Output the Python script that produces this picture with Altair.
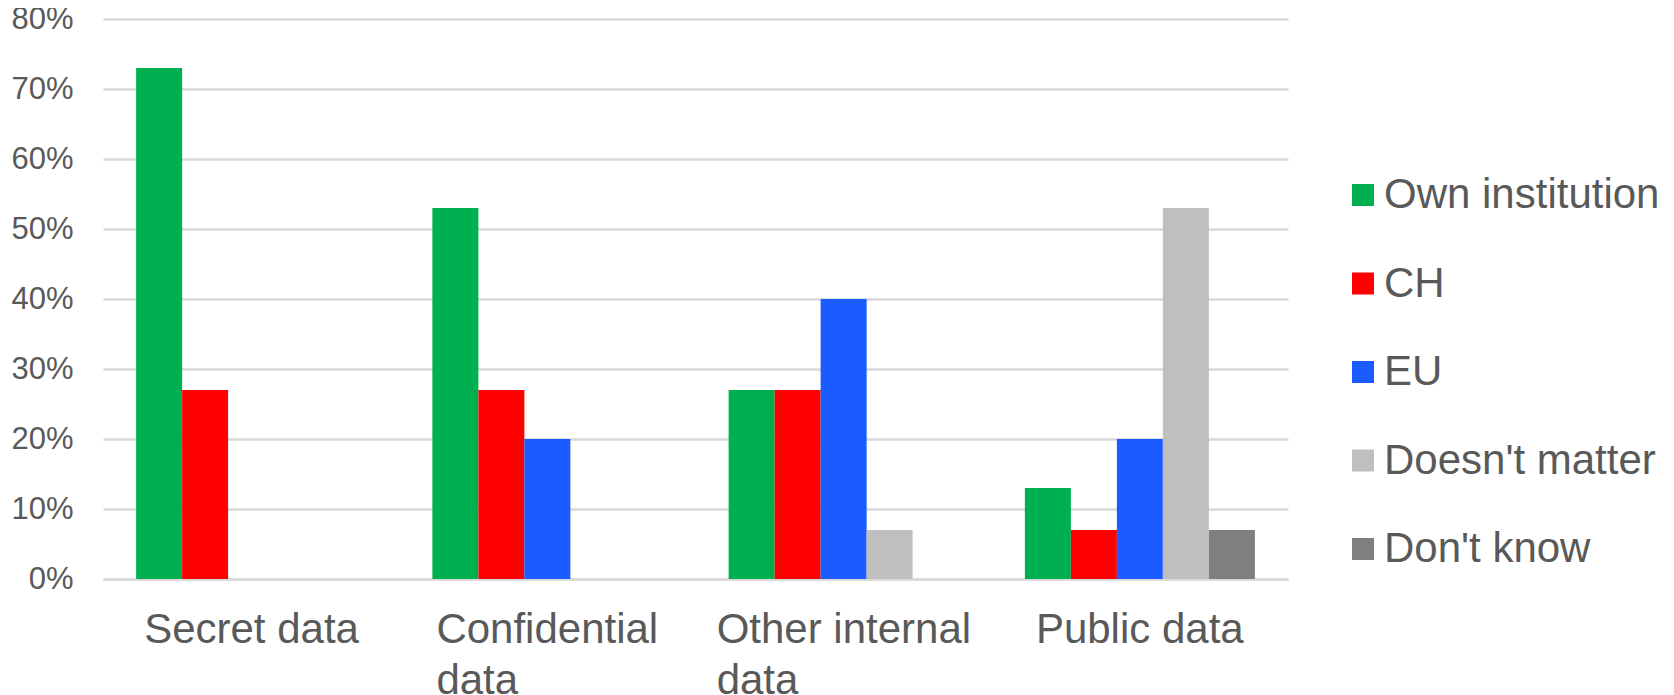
import altair as alt
import pandas as pd

categories = ["Secret data", "Confidential data", "Other internal data", "Public data"]
series = ["Own institution", "CH", "EU", "Doesn't matter", "Don't know"]
colors = ["#00B050", "#FF0000", "#1A5CFF", "#BFBFBF", "#7F7F7F"]

own_institution = [0.73, 0.53, 0.27, 0.13]
ch = [0.27, 0.27, 0.27, 0.07]
eu = [0.0, 0.20, 0.40, 0.20]
doesnt_matter = [0.0, 0.0, 0.07, 0.53]
dont_know = [0.0, 0.0, 0.0, 0.07]

values = [own_institution, ch, eu, doesnt_matter, dont_know]
rows = []
for s, vals in zip(series, values):
    for c, v in zip(categories, vals):
        rows.append({"category": c, "series": s, "value": v})
df = pd.DataFrame(rows)

TEXT = "#595959"
GRID = "#D9D9D9"
FONT = "Liberation Sans"

label_expr = (
    "datum.value == 'Confidential data' ? ['Confidential', 'data'] : "
    "datum.value == 'Other internal data' ? ['Other internal', 'data'] : datum.value"
)
offset_expr = (
    "datum.value == 'Secret data' ? -107 : "
    "datum.value == 'Confidential data' ? -111 : "
    "datum.value == 'Other internal data' ? -127 : -104"
)

chart = (
    alt.Chart(df)
    .mark_bar()
    .encode(
        x=alt.X(
            "category:N",
            sort=categories,
            scale=alt.Scale(paddingInner=0, paddingOuter=0),
            axis=alt.Axis(
                title=None,
                labelAngle=0,
                labelFont=FONT,
                labelFontSize=42,
                labelColor=TEXT,
                labelExpr=label_expr,
                labelAlign="left",
                labelOffset={"expr": offset_expr},
                labelLineHeight=51,
                labelPadding=30,
                ticks=False,
                tickSize=0,
                domainColor=GRID,
                domainWidth=2.5,
                grid=False,
                labelLimit=0,
            ),
        ),
        xOffset=alt.XOffset(
            "series:N",
            sort=series,
            scale=alt.Scale(paddingInner=0, paddingOuter=0.72),
        ),
        y=alt.Y(
            "value:Q",
            scale=alt.Scale(domain=[0, 0.8], nice=False),
            axis=alt.Axis(
                title=None,
                format=".0%",
                values=[0, 0.1, 0.2, 0.3, 0.4, 0.5, 0.6, 0.7, 0.8],
                labelFont=FONT,
                labelFontSize=31,
                labelColor=TEXT,
                labelPadding=30,
                ticks=False,
                tickSize=0,
                domain=False,
                gridColor=GRID,
                gridWidth=2.5,
            ),
        ),
        color=alt.Color(
            "series:N",
            sort=series,
            scale=alt.Scale(domain=series, range=colors),
            legend=alt.Legend(
                title=None,
                orient="none",
                legendX=1239,
                legendY=155,
                padding=0,
                symbolType="square",
                symbolSize=484,
                symbolStrokeWidth=0,
                labelFont=FONT,
                labelFontSize=42,
                labelColor=TEXT,
                labelOffset=0,
                rowPadding=46.5,
                labelLimit=0,
            ),
        ),
    )
    .properties(
        width=1185,
        height=560,
        background="white",
        autosize=alt.AutoSizeParams(type="none"),
        padding={"left": 95, "top": 11, "right": 378, "bottom": 116},
    )
    .configure_view(strokeWidth=0, stroke="transparent")
)

chart.save("out.html", embed_options={"renderer": "svg", "actions": False})
